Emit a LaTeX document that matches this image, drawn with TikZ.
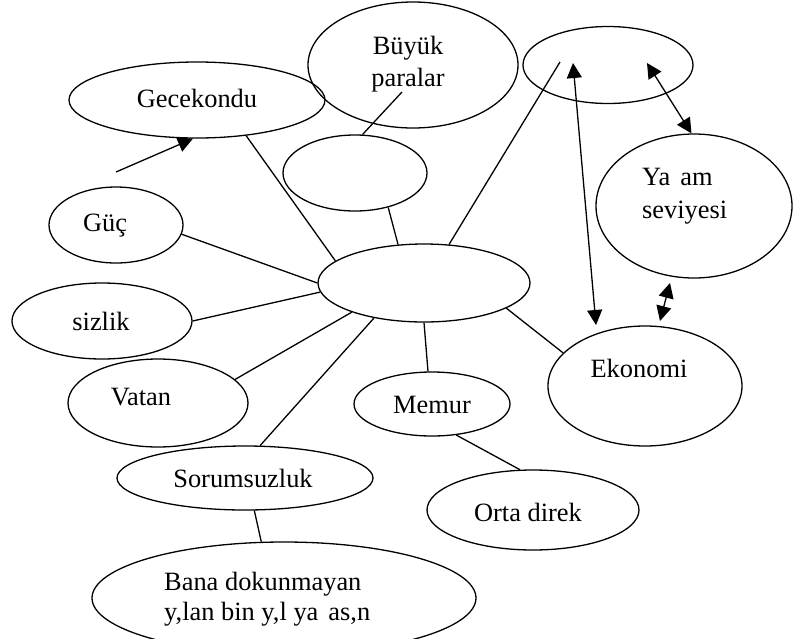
\documentclass[tikz,border=0pt]{standalone}
\usepackage{fontspec}
\setmainfont{Liberation Serif}
\usetikzlibrary{shapes.geometric,arrows.meta}
\begin{document}
\begin{tikzpicture}[x=1pt,y=-1pt,
  bub/.style={ellipse,draw,line width=1.3pt,inner sep=0pt},
  lab/.style={anchor=base,inner sep=0pt,font=\fontsize{26.4}{33}\selectfont},
  labl/.style={anchor=base west,inner sep=0pt,font=\fontsize{26.4}{33}\selectfont},
  con/.style={line width=1.3pt},
  tip/.style={-{Triangle[length=15pt,width=15pt]}},
  both/.style={{Triangle[length=15pt,width=15pt]}-{Triangle[length=15pt,width=15pt]}}]
\useasboundingbox (0,0) rectangle (793,638);
% ellipses
\node[bub,minimum width=256pt,minimum height=76pt] (gec) at (197,100) {};
\node[bub,minimum width=210pt,minimum height=126pt] (bp) at (413,65) {};
\node[bub,minimum width=144pt,minimum height=76pt] (sm) at (355,173) {};
\node[bub,minimum width=170pt,minimum height=77pt] (tr) at (608,65) {};
\node[bub,minimum width=196pt,minimum height=144pt] (ya) at (694,206) {};
\node[bub,minimum width=134pt,minimum height=76pt] (guc) at (116,225) {};
\node[bub,minimum width=212pt,minimum height=78pt] (cen) at (424,283) {};
\node[bub,minimum width=180pt,minimum height=76pt] (siz) at (102,321) {};
\node[bub,minimum width=180pt,minimum height=88pt] (vat) at (158,403) {};
\node[bub,minimum width=256pt,minimum height=64pt] (sor) at (245,478) {};
\node[bub,minimum width=384pt,minimum height=112pt] (bana) at (284,598) {};
\node[bub,minimum width=156pt,minimum height=64pt] (mem) at (432,404) {};
\node[bub,minimum width=194pt,minimum height=120pt] (eko) at (645,386) {};
\node[bub,minimum width=212pt,minimum height=80pt] (orta) at (533,510) {};
% texts
\node[lab] (tgec) at (197,107) {Gecekondu};
\node[lab] (tbp1) at (408,54) {Büyük};
\node[lab] (tbp2) at (408,86) {paralar};
\node[labl] (tya1) at (642,185) {Ya\hspace{0.38em}am};
\node[labl] (tya2) at (642,218) {seviyesi};
\node[lab] (tguc) at (105,231) {Güç};
\node[lab] (tsiz) at (101,330) {sizlik};
\node[lab] (tvat) at (141,405) {Vatan};
\node[lab] (tsor) at (243,487) {Sorumsuzluk};
\node[labl] (tbana1) at (164,590) {Bana dokunmayan};
\node[labl] (tbana2) at (164,620) {y,lan bin y,l ya\hspace{0.38em}as,n};
\node[lab] (tmem) at (432,413) {Memur};
\node[lab] (teko) at (639,377) {Ekonomi};
\node[lab] (torta) at (528,521) {Orta direk};
% connectors
\draw[con] (gec.-36) -- (cen.166.6);
\draw[con] (guc.-8.5) -- (cen.180);
\draw[con] (siz.0) -- (cen.185);
\draw[con] (vat.17.8) -- (cen.202.6);
\draw[con] (sor.65) -- (cen.215);
\draw[con] (sm.-46.7) -- (cen.124.4);
\coordinate (bpin) at (402,92);
\draw[con] (sm.79.6) -- (bpin);
\coordinate (trin) at (560,62);
\draw[con] (cen.57.7) -- (trin);
\draw[con] (cen.-17.3) -- (eko.158);
\draw[con] (cen.-90) -- (mem.97);
\draw[con] (mem.-52.3) -- (orta.108.4);
\draw[con] (sor.-74.3) -- (bana.112.5);
% arrows
\coordinate (a1) at (573,63);
\coordinate (a1b) at (596,325);
\draw[con,both] (a1) -- (a1b);
\coordinate (a2) at (647,63);
\draw[con,both] (a2) -- (ya.92);
\coordinate (a3a) at (670,283);
\coordinate (a3b) at (660,321);
\draw[con,both] (a3a) -- (a3b);
\coordinate (a4) at (116,172);
\draw[con,tip] (a4) -- (gec.-96);
\end{tikzpicture}
\end{document}
